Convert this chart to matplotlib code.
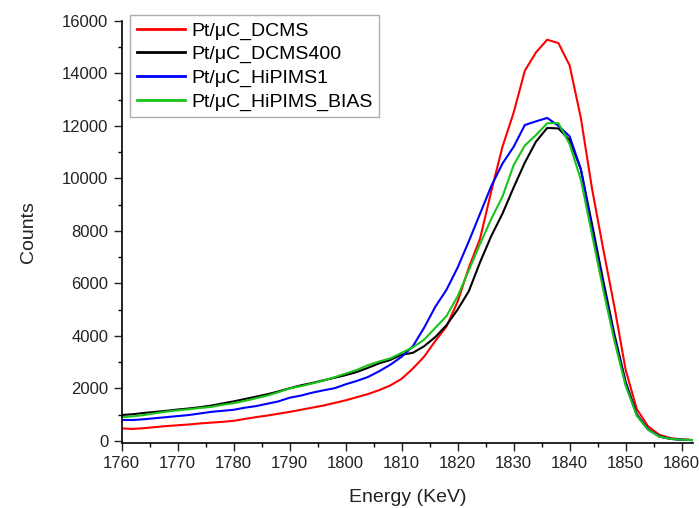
import numpy as np
import matplotlib
matplotlib.use("Agg")
import matplotlib.pyplot as plt
from matplotlib.ticker import MultipleLocator

plt.rcParams['font.family'] = ['Liberation Sans', 'DejaVu Sans']

# energy grid (KeV)
energy = np.arange(1760, 1863, 2)

# counts
dcms = [470, 450, 480, 520, 560, 590, 620, 660, 690, 720,
        760, 830, 900, 960, 1030, 1100, 1180, 1260, 1340, 1440,
        1540, 1660, 1780, 1930, 2110, 2360, 2750, 3200, 3800, 4350,
        5300, 6600, 7700, 9500, 11200, 12500, 14100, 14800, 15280, 15150,
        14300, 12300, 9600, 7300, 5100, 2700, 1200, 550, 230, 100,
        50, 30]
dcms400 = [980, 1010, 1060, 1100, 1140, 1190, 1230, 1280, 1340, 1420,
           1500, 1590, 1680, 1770, 1880, 2000, 2110, 2200, 2300, 2400,
           2500, 2620, 2780, 2950, 3080, 3280, 3350, 3600, 3950, 4400,
           5000, 5700, 6800, 7800, 8650, 9650, 10600, 11400, 11920, 11900,
           11450, 10350, 8250, 6100, 4050, 2250, 1000, 440, 170, 75,
           40, 25]
hipims1 = [790, 790, 820, 860, 900, 940, 980, 1040, 1100, 1140,
           1180, 1260, 1320, 1410, 1500, 1640, 1720, 1830, 1920, 2000,
           2150, 2280, 2430, 2650, 2900, 3200, 3600, 4300, 5100, 5750,
           6600, 7600, 8650, 9700, 10560, 11200, 12030, 12170, 12300, 12000,
           11600, 10350, 8050, 5900, 3900, 2150, 970, 430, 165, 70,
           40, 25]
hipims_bias = [900, 930, 980, 1050, 1110, 1160, 1200, 1250, 1290, 1370,
               1430, 1520, 1620, 1720, 1850, 1990, 2080, 2180, 2290, 2420,
               2560, 2700, 2880, 3020, 3140, 3350, 3560, 3850, 4300, 4750,
               5500, 6500, 7500, 8450, 9300, 10500, 11250, 11650, 12100, 12100,
               11300, 9950, 7850, 5750, 3800, 2100, 950, 420, 160, 70,
               40, 25]

fig = plt.figure(figsize=(6.99, 5.08), dpi=100)
ax = fig.add_axes([0.174, 0.1285, 0.818, 0.8305])

ax.plot(energy, dcms, color='#ff0000', lw=1.5, label='Pt/\u03bcC_DCMS')
ax.plot(energy, dcms400, color='#000000', lw=1.5, label='Pt/\u03bcC_DCMS400')
ax.plot(energy, hipims1, color='#0000ff', lw=1.5, label='Pt/\u03bcC_HiPIMS1')
ax.plot(energy, hipims_bias, color='#19c419', lw=1.5, label='Pt/\u03bcC_HiPIMS_BIAS')

ax.set_xlim(1760, 1862.1)
ax.set_ylim(-75, 16000)
ax.xaxis.set_major_locator(MultipleLocator(10))
ax.xaxis.set_minor_locator(MultipleLocator(5))
ax.yaxis.set_major_locator(MultipleLocator(2000))
ax.yaxis.set_minor_locator(MultipleLocator(1000))
ax.tick_params(which='major', direction='out', length=6, width=1, labelsize=12, colors='#222222')
ax.tick_params(which='minor', direction='out', length=3, width=1)

for s in ['top', 'right']:
    ax.spines[s].set_visible(False)
for s in ['left', 'bottom']:
    ax.spines[s].set_linewidth(1.2)

ax.set_xlabel('Energy (KeV)', fontsize=14, color='#222222', labelpad=13)
ax.set_ylabel('Counts', fontsize=14, color='#222222', labelpad=18)

leg = ax.legend(loc='upper left', bbox_to_anchor=(0.0145, 1.0135), borderaxespad=0,
                fontsize=14, frameon=True, fancybox=False, edgecolor='#999999',
                handlelength=2.5, handletextpad=0.3, labelspacing=0.3,
                borderpad=0.35)
leg.get_frame().set_linewidth(1.0)
for line in leg.get_lines():
    line.set_linewidth(2)

fig.savefig('out.png', dpi=100)
